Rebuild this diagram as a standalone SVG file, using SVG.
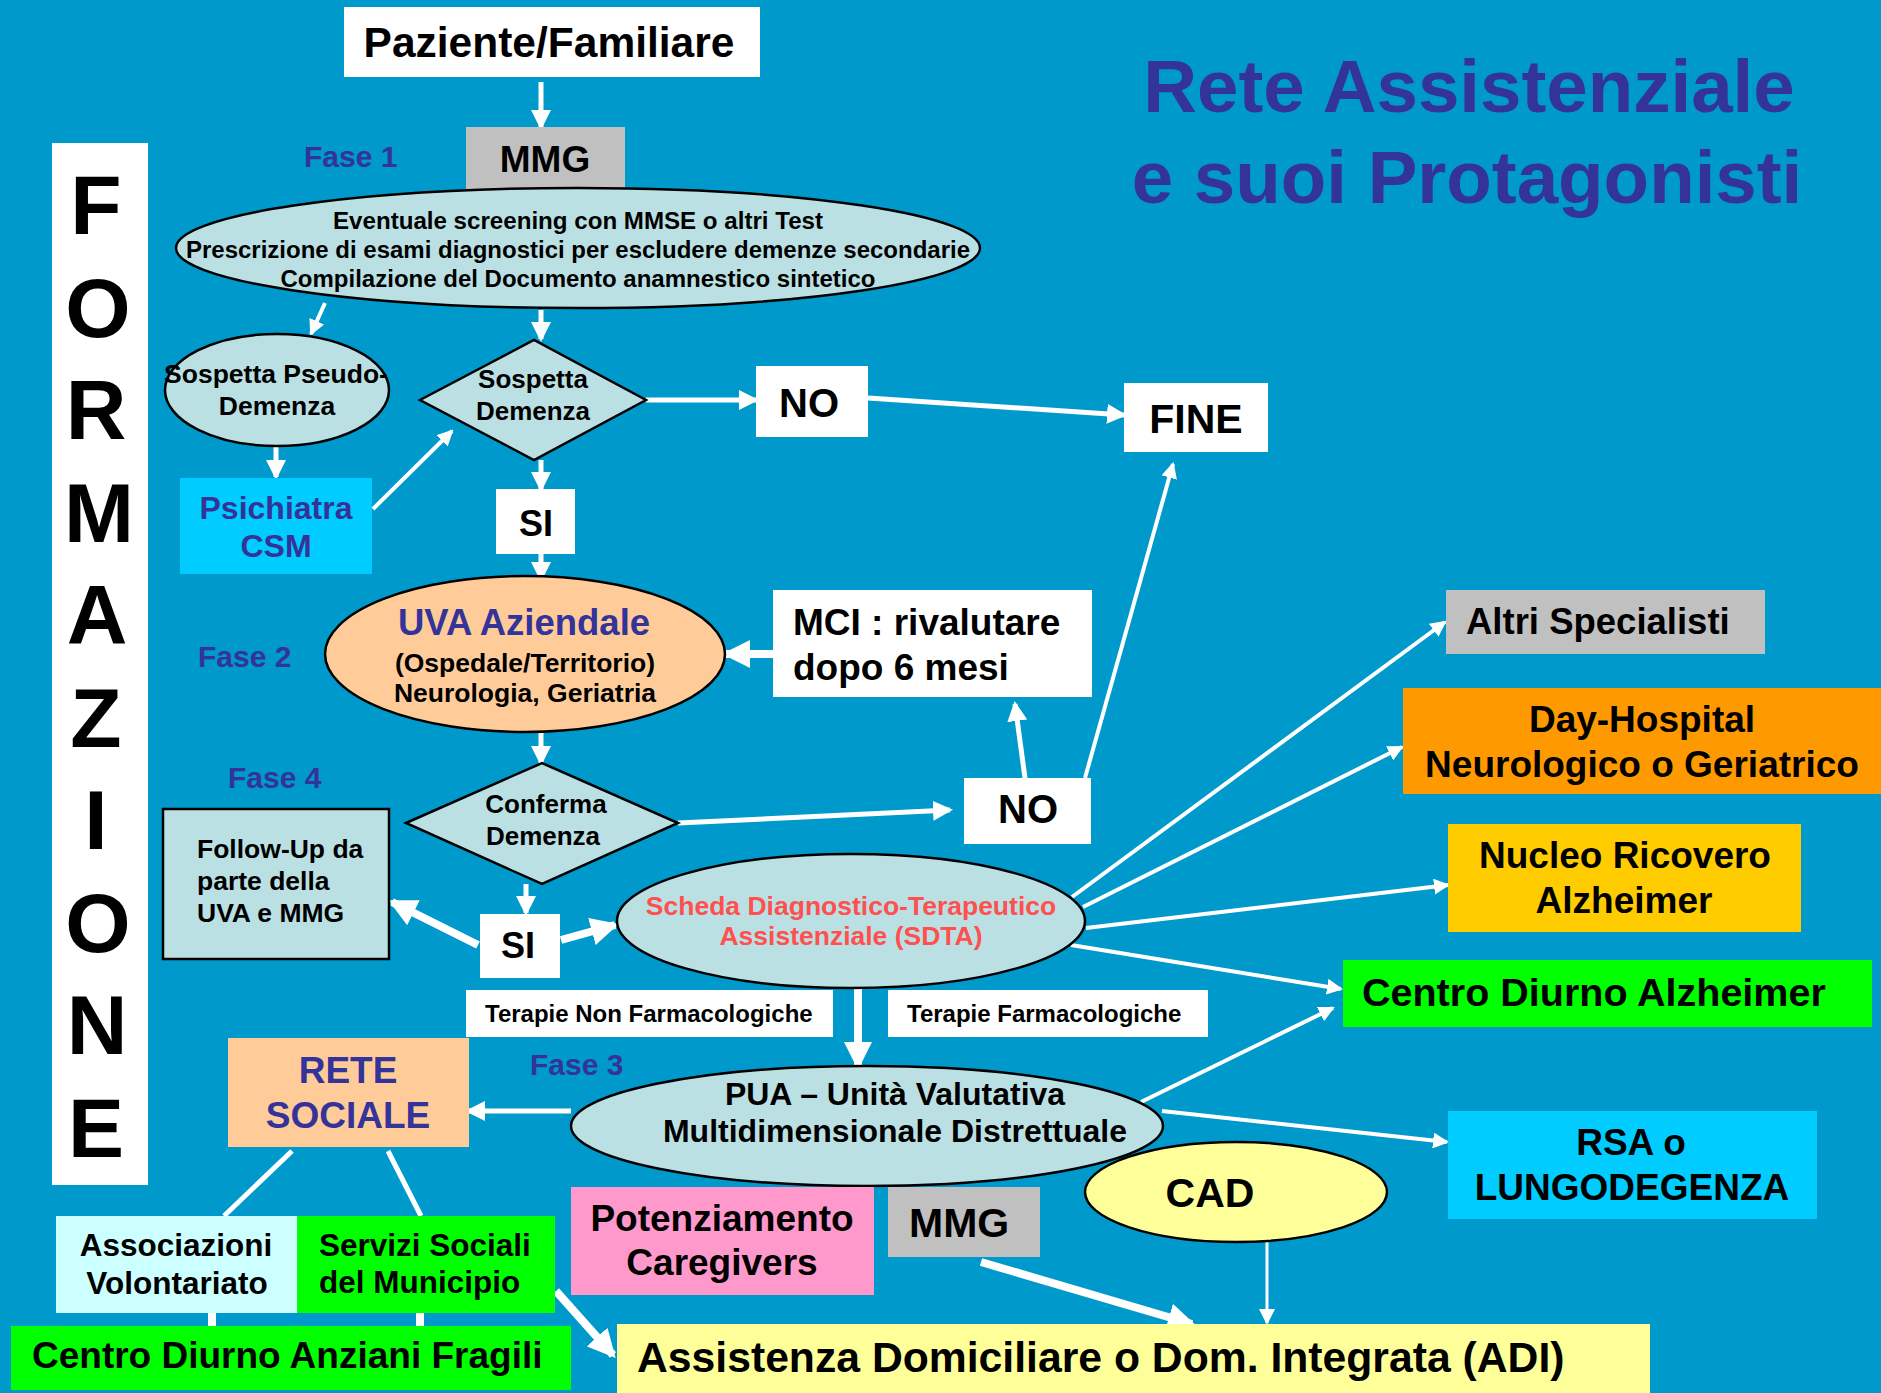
<svg xmlns="http://www.w3.org/2000/svg" width="1881" height="1393" viewBox="0 0 1881 1393">
<style>
text{font-family:"Liberation Sans",Arial,sans-serif;font-weight:bold;fill:#000}
.c{text-anchor:middle}
.blue{fill:#333399}
.red{fill:#FF5050}
.ln{stroke:#fff;stroke-width:5;fill:none}
.th{stroke:#fff;stroke-width:8;fill:none}
.tn{stroke:#fff;stroke-width:4;fill:none}
.ol{stroke:#000;stroke-width:2.5}
</style>
<defs>
<marker id="a" markerUnits="userSpaceOnUse" markerWidth="20" markerHeight="20" viewBox="0 0 20 20" refX="17" refY="10" orient="auto"><path d="M0,0 L20,10 L0,20 z" fill="#fff"/></marker>
<marker id="b" markerUnits="userSpaceOnUse" markerWidth="28" markerHeight="28" viewBox="0 0 28 28" refX="24" refY="14" orient="auto"><path d="M0,0 L28,14 L0,28 z" fill="#fff"/></marker>
<marker id="s" markerUnits="userSpaceOnUse" markerWidth="16" markerHeight="16" viewBox="0 0 16 16" refX="14" refY="8" orient="auto"><path d="M0,0 L16,8 L0,16 z" fill="#fff"/></marker>
</defs>
<rect width="1881" height="1393" fill="#0099CC"/>

<g id="title">
<text class="c blue" x="1469" y="112" font-size="74.5">Rete Assistenziale</text>
<text class="c blue" x="1467" y="203" font-size="74.5">e suoi Protagonisti</text>
</g>

<g id="formazione">
<rect x="52" y="143" width="96" height="1042" fill="#fff"/>
<g font-size="84">
<text class="c" x="96" y="234">F</text>
<text class="c" x="98" y="337">O</text>
<text class="c" x="96" y="439">R</text>
<text class="c" x="99" y="542">M</text>
<text class="c" x="97" y="644">A</text>
<text class="c" x="96" y="747">Z</text>
<text class="c" x="96" y="849">I</text>
<text class="c" x="98" y="952">O</text>
<text class="c" x="97" y="1054">N</text>
<text class="c" x="96" y="1157">E</text>
</g>
</g>

<g id="fasi">
<text class="blue" x="304" y="167" font-size="30">Fase 1</text>
<text class="blue" x="198" y="667" font-size="30">Fase 2</text>
<text class="blue" x="530" y="1075" font-size="30">Fase 3</text>
<text class="blue" x="228" y="788" font-size="30">Fase 4</text>
</g>

<g id="connectors">
<path class="ln" d="M541,82 L541,127" marker-end="url(#a)"/>
<path class="tn" d="M325,303 L311,334" marker-end="url(#s)"/>
<path class="ln" d="M541,310 L541,339" marker-end="url(#a)"/>
<path class="ln" d="M276,446 L276,477" marker-end="url(#a)"/>
<path class="tn" d="M373,509 L452,431" marker-end="url(#s)"/>
<path class="ln" d="M646,400 L756,400" marker-end="url(#a)"/>
<path class="ln" d="M868,398 L1124,415" marker-end="url(#a)"/>
<path class="ln" d="M541,460 L541,489" marker-end="url(#a)"/>
<path class="ln" d="M541,554 L541,579" marker-end="url(#a)"/>
<path class="th" d="M773,654 L726,654" marker-end="url(#b)"/>
<path class="ln" d="M541,733 L541,763" marker-end="url(#a)"/>
<path class="ln" d="M678,823 L950,810" marker-end="url(#a)"/>
<path class="ln" d="M1025,778 L1015,704" marker-end="url(#a)"/>
<path class="tn" d="M1085,778 L1173,464" marker-end="url(#s)"/>
<path class="ln" d="M526,884 L526,913" marker-end="url(#a)"/>
<path class="th" d="M478,945 L392,902" marker-end="url(#b)"/>
<path class="th" d="M561,940 L615,925" marker-end="url(#b)"/>
<path class="tn" d="M1072,897 L1445,622" marker-end="url(#s)"/>
<path class="tn" d="M1083,907 L1402,747" marker-end="url(#s)"/>
<path class="tn" d="M1086,928 L1448,885" marker-end="url(#s)"/>
<path class="tn" d="M1071,945 L1341,989" marker-end="url(#s)"/>
<path class="th" d="M858,989 L858,1066" marker-end="url(#b)"/>
<path class="ln" d="M571,1111 L468,1111" marker-end="url(#a)"/>
<path class="ln" d="M292,1151 L224,1216"/>
<path class="ln" d="M388,1151 L421,1216"/>
<path class="th" d="M212,1312 L212,1327"/>
<path class="th" d="M420,1312 L420,1327"/>
<path class="th" d="M556,1291 L613,1355" marker-end="url(#b)"/>
<path class="th" d="M981,1262 L1192,1324" marker-end="url(#b)"/>
<path d="M1267,1242 L1267,1323" stroke="#fff" stroke-width="3" fill="none" marker-end="url(#s)"/>
<path class="tn" d="M1162,1111 L1447,1142" marker-end="url(#s)"/>
<path class="tn" d="M1141,1102 L1333,1008" marker-end="url(#s)"/>
</g>

<g id="paziente">
<rect x="344" y="7" width="416" height="70" fill="#fff"/>
<text class="c" x="549" y="57" font-size="42.5">Paziente/Familiare</text>
</g>

<g id="mmg1">
<rect x="466" y="127" width="159" height="62" fill="#C0C0C0"/>
<text class="c" x="545" y="172" font-size="37">MMG</text>
</g>

<g id="screening">
<ellipse class="ol" cx="578" cy="248" rx="402" ry="60" fill="#BBE0E3"/>
<text class="c" x="578" y="229" font-size="23" textLength="490" lengthAdjust="spacingAndGlyphs">Eventuale screening con MMSE o altri Test</text>
<text class="c" x="578" y="258" font-size="23" textLength="784" lengthAdjust="spacingAndGlyphs">Prescrizione di esami diagnostici per escludere demenze secondarie</text>
<text class="c" x="578" y="287" font-size="23" textLength="595" lengthAdjust="spacingAndGlyphs">Compilazione del Documento anamnestico sintetico</text>
</g>

<g id="pseudo">
<ellipse class="ol" cx="277" cy="390" rx="112" ry="56" fill="#BBE0E3"/>
<text class="c" x="276" y="383" font-size="26.5">Sospetta Pseudo-</text>
<text class="c" x="277" y="415" font-size="26.5">Demenza</text>
</g>

<g id="sospetta">
<path class="ol" d="M420,400 L534,340 L646,400 L534,460 z" fill="#BBE0E3"/>
<text class="c" x="533" y="388" font-size="26">Sospetta</text>
<text class="c" x="533" y="420" font-size="26">Demenza</text>
</g>

<g id="no1">
<rect x="756" y="366" width="112" height="71" fill="#fff"/>
<text class="c" x="809" y="417" font-size="40">NO</text>
</g>

<g id="fine">
<rect x="1124" y="383" width="144" height="69" fill="#fff"/>
<text class="c" x="1196" y="433" font-size="41">FINE</text>
</g>

<g id="psichiatra">
<rect x="180" y="478" width="192" height="96" fill="#00CCFF"/>
<text class="c blue" x="276" y="519" font-size="32">Psichiatra</text>
<text class="c blue" x="276" y="557" font-size="32">CSM</text>
</g>

<g id="si1">
<rect x="496" y="489" width="79" height="65" fill="#fff"/>
<text class="c" x="536" y="536" font-size="36">SI</text>
</g>

<g id="uva">
<ellipse class="ol" cx="525" cy="654" rx="200" ry="78" fill="#FFCC99"/>
<text class="c blue" x="524" y="635" font-size="36.5">UVA Aziendale</text>
<text class="c" x="525" y="672" font-size="26.5">(Ospedale/Territorio)</text>
<text class="c" x="525" y="702" font-size="26.5">Neurologia, Geriatria</text>
</g>

<g id="mci">
<rect x="773" y="590" width="319" height="107" fill="#fff"/>
<text x="793" y="635" font-size="37">MCI : rivalutare</text>
<text x="793" y="680" font-size="37">dopo 6 mesi</text>
</g>

<g id="conferma">
<path class="ol" d="M406,823 L542,763 L678,823 L542,884 z" fill="#BBE0E3"/>
<text class="c" x="546" y="813" font-size="26">Conferma</text>
<text class="c" x="543" y="845" font-size="26">Demenza</text>
</g>

<g id="no2">
<rect x="964" y="778" width="127" height="66" fill="#fff"/>
<text class="c" x="1028" y="823" font-size="40">NO</text>
</g>

<g id="followup">
<rect class="ol" x="163" y="809" width="226" height="150" fill="#BBE0E3"/>
<text x="197" y="858" font-size="26.5">Follow-Up da</text>
<text x="197" y="890" font-size="26.5">parte della</text>
<text x="197" y="922" font-size="26.5">UVA e MMG</text>
</g>

<g id="si2">
<rect x="480" y="914" width="80" height="64" fill="#fff"/>
<text class="c" x="518" y="958" font-size="36">SI</text>
</g>

<g id="sdta">
<ellipse class="ol" cx="851" cy="921" rx="234" ry="67" fill="#BBE0E3"/>
<text class="c red" x="851" y="915" font-size="26.5">Scheda Diagnostico-Terapeutico</text>
<text class="c red" x="851" y="945" font-size="26.5">Assistenziale (SDTA)</text>
</g>

<g id="altri">
<rect x="1446" y="590" width="319" height="64" fill="#C0C0C0"/>
<text x="1466" y="634" font-size="36.5">Altri Specialisti</text>
</g>

<g id="dayhospital">
<rect x="1403" y="688" width="478" height="106" fill="#FF9900"/>
<text class="c" x="1642" y="732" font-size="37">Day-Hospital</text>
<text class="c" x="1642" y="777" font-size="37">Neurologico o Geriatrico</text>
</g>

<g id="nucleo">
<rect x="1448" y="824" width="353" height="108" fill="#FFCC00"/>
<text class="c" x="1625" y="868" font-size="37">Nucleo Ricovero</text>
<text class="c" x="1624" y="913" font-size="37">Alzheimer</text>
</g>

<g id="cda">
<rect x="1343" y="960" width="529" height="67" fill="#00FF00"/>
<text x="1362" y="1006" font-size="39.5">Centro Diurno Alzheimer</text>
</g>

<g id="terapie-nf">
<rect x="466" y="990" width="367" height="47" fill="#fff"/>
<text x="485" y="1022" font-size="24">Terapie Non Farmacologiche</text>
</g>

<g id="terapie-f">
<rect x="888" y="990" width="320" height="47" fill="#fff"/>
<text x="907" y="1022" font-size="24">Terapie Farmacologiche</text>
</g>

<g id="rete">
<rect x="228" y="1038" width="241" height="109" fill="#FFCC99"/>
<text class="c blue" x="348" y="1083" font-size="37">RETE</text>
<text class="c blue" x="348" y="1128" font-size="37">SOCIALE</text>
</g>

<g id="pua">
<ellipse class="ol" cx="867" cy="1126" rx="296" ry="60" fill="#BBE0E3"/>
<text class="c" x="895" y="1105" font-size="32">PUA – Unità Valutativa</text>
<text class="c" x="895" y="1142" font-size="32">Multidimensionale Distrettuale</text>
</g>

<g id="cad">
<ellipse class="ol" cx="1236" cy="1192" rx="151" ry="50" fill="#FFFF99"/>
<text class="c" x="1210" y="1207" font-size="41">CAD</text>
</g>

<g id="rsa">
<rect x="1448" y="1111" width="369" height="108" fill="#00CCFF"/>
<text class="c" x="1631" y="1155" font-size="37">RSA o</text>
<text class="c" x="1632" y="1200" font-size="37">LUNGODEGENZA</text>
</g>

<g id="associazioni">
<rect x="56" y="1216" width="241" height="97" fill="#CCFFFF"/>
<text class="c" x="176" y="1256" font-size="31.5">Associazioni</text>
<text class="c" x="177" y="1294" font-size="31.5">Volontariato</text>
</g>

<g id="servizi">
<rect x="297" y="1216" width="258" height="97" fill="#00FF00"/>
<text x="319" y="1256" font-size="31.5">Servizi Sociali</text>
<text x="319" y="1293" font-size="31.5">del Municipio</text>
</g>

<g id="cdaf">
<rect x="11" y="1326" width="560" height="64" fill="#00FF00"/>
<text x="32" y="1368" font-size="37">Centro Diurno Anziani Fragili</text>
</g>

<g id="potenziamento">
<rect x="571" y="1187" width="303" height="108" fill="#FF99CC"/>
<text class="c" x="722" y="1231" font-size="37">Potenziamento</text>
<text class="c" x="722" y="1275" font-size="37">Caregivers</text>
</g>

<g id="mmg2">
<rect x="888" y="1187" width="152" height="70" fill="#C0C0C0"/>
<text x="909" y="1237" font-size="41">MMG</text>
</g>

<g id="adi">
<rect x="617" y="1324" width="1033" height="69" fill="#FFFF99"/>
<text x="637" y="1372" font-size="42.7">Assistenza Domiciliare o Dom. Integrata (ADI)</text>
</g>
</svg>
